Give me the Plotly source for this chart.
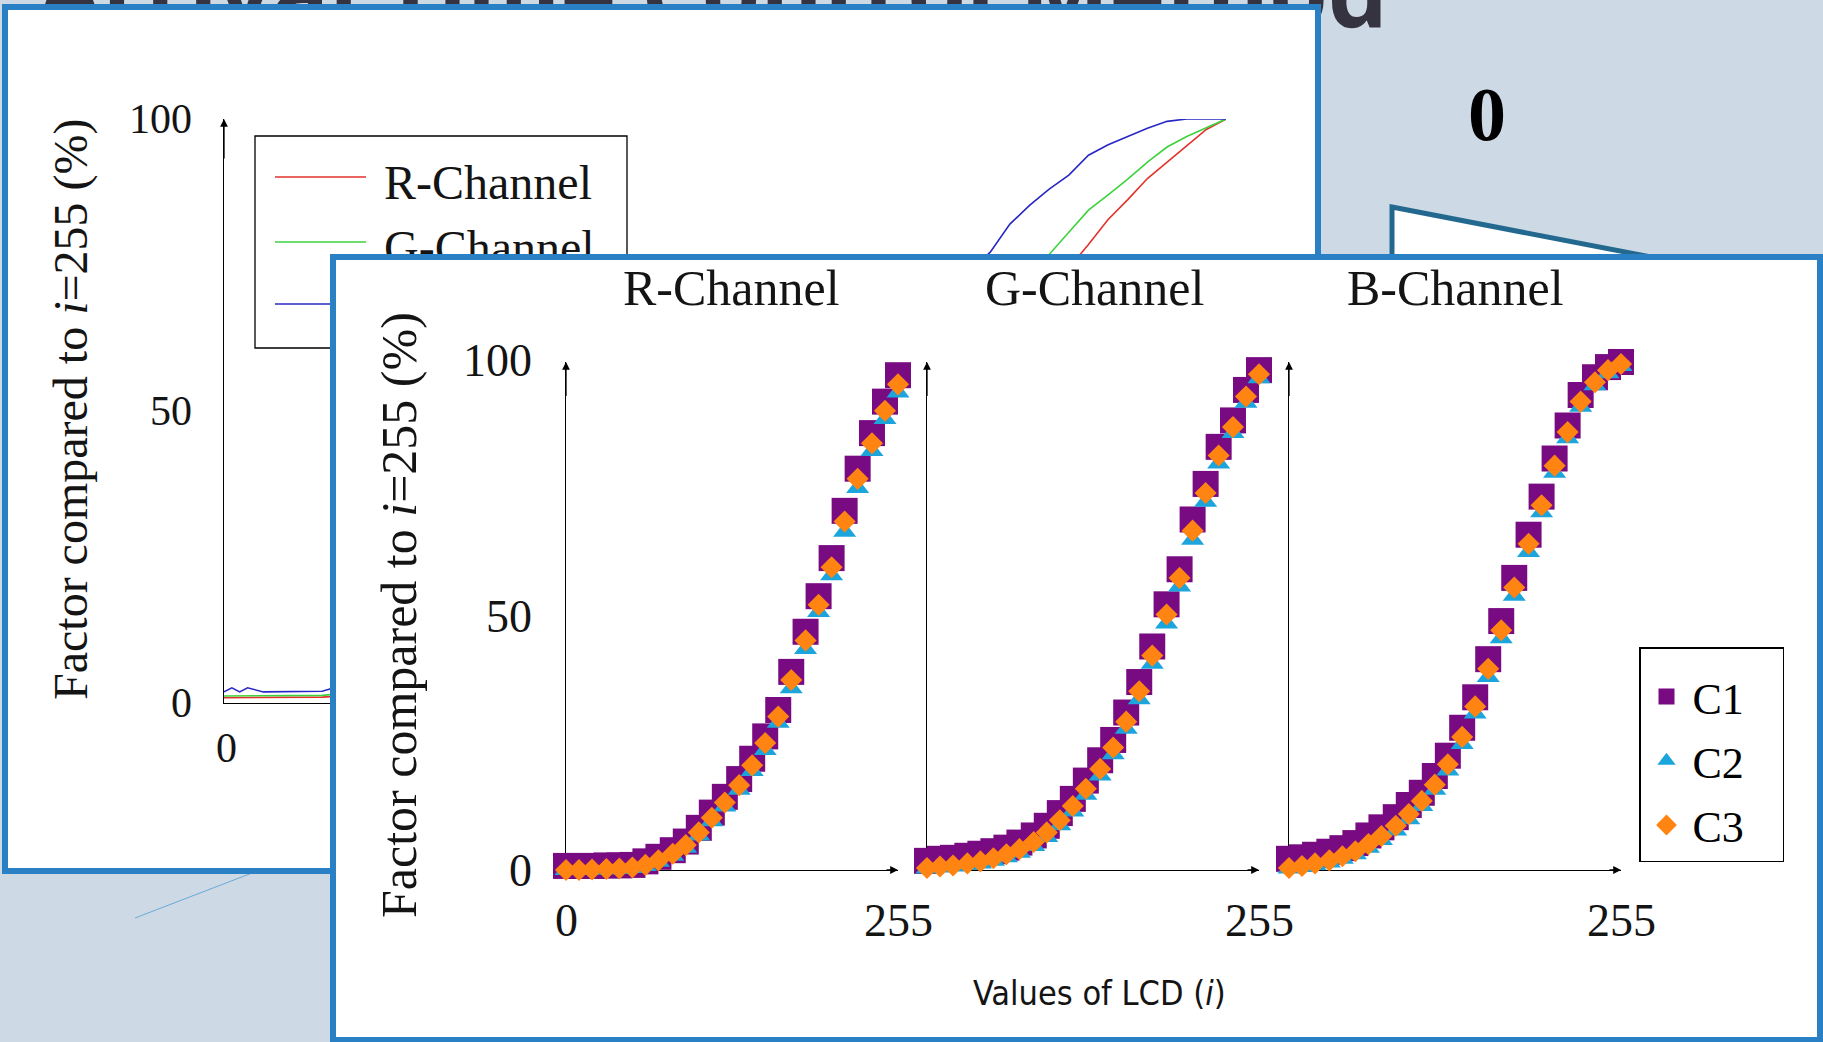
import plotly.graph_objects as go

W, H = 1823, 1042


def PX(px):
    return px / W


def PY(py):
    return (H - py) / H


# ---------------- data ----------------
LCD = [0, 10, 20, 31, 41, 51, 61, 71, 82, 92, 102, 112, 122, 133, 143, 153, 163, 173, 184, 194, 204, 214, 224, 235, 245, 255]

R_C1 = [0.8, 0.8, 0.8, 0.9, 0.9, 1.0, 1.7, 2.6, 3.9, 5.6, 8.3, 11.3, 14.4, 17.9, 21.9, 26.3, 31.5, 39.0, 46.9, 53.9, 61.4, 70.7, 79.0, 86.0, 92.2, 97.4]
R_C2 = [0.0, 0.0, 0.1, 0.1, 0.2, 0.4, 0.8, 1.6, 2.8, 4.4, 6.8, 9.6, 12.5, 15.8, 19.5, 23.6, 29.0, 35.8, 43.5, 50.8, 58.0, 66.6, 75.2, 82.5, 88.8, 94.0]
R_C3 = [0.0, 0.0, 0.1, 0.2, 0.3, 0.5, 1.0, 1.9, 3.2, 4.9, 7.4, 10.3, 13.3, 16.7, 20.6, 25.0, 30.2, 37.4, 45.2, 52.2, 59.6, 68.6, 77.0, 84.0, 90.4, 95.6]

G_C1 = [1.8, 2.2, 2.4, 2.8, 3.2, 3.7, 4.4, 5.4, 6.8, 8.7, 11.2, 14.0, 17.6, 21.6, 25.6, 31.0, 37.0, 44.0, 52.3, 59.2, 69.0, 76.0, 83.3, 88.5, 94.5, 98.4]
G_C2 = [0.3, 0.5, 0.7, 1.0, 1.3, 1.8, 2.5, 3.4, 4.7, 6.5, 8.8, 11.5, 14.8, 18.6, 22.8, 27.8, 33.6, 40.6, 48.5, 55.8, 65.0, 72.5, 80.0, 86.0, 92.0, 96.8]
G_C3 = [0.4, 0.7, 0.9, 1.3, 1.7, 2.3, 3.1, 4.1, 5.5, 7.4, 9.8, 12.6, 16.0, 19.9, 24.1, 29.2, 35.2, 42.2, 50.3, 57.5, 66.8, 74.2, 81.6, 87.2, 93.2, 97.6]

B_C1 = [2.2, 2.5, 3.0, 3.6, 4.3, 5.3, 6.8, 8.4, 10.4, 12.8, 15.2, 18.5, 22.5, 28.0, 34.0, 41.5, 49.0, 57.5, 66.0, 73.5, 81.0, 87.5, 93.5, 97.0, 99.0, 100.0]
B_C2 = [0.3, 0.6, 1.0, 1.5, 2.2, 3.1, 4.4, 5.9, 7.8, 10.0, 12.6, 15.8, 19.6, 24.8, 30.8, 38.0, 45.6, 54.0, 62.6, 70.4, 78.2, 85.0, 91.2, 95.4, 97.8, 99.2]
B_C3 = [0.4, 0.8, 1.3, 1.9, 2.7, 3.7, 5.1, 6.7, 8.7, 11.0, 13.6, 16.8, 20.8, 26.2, 32.2, 39.6, 47.2, 55.6, 64.2, 71.8, 79.6, 86.2, 92.2, 96.0, 98.4, 99.6]

BACK_LCD = [0, 2, 4, 6, 10, 15, 20, 25, 30, 60, 90, 120, 150, 180, 190, 195, 200, 205, 210, 215, 220, 225, 230, 235, 240, 245, 250, 255]
BACK_R = [0.9, 0.9, 0.9, 0.9, 0.9, 0.9, 0.9, 1.0, 1.2, 3.0, 9.0, 19.0, 33.0, 52.0, 58.0, 61.0, 64.0, 67.0, 70.5, 74.5, 78.5, 82.8, 86.2, 89.8, 92.6, 95.4, 98.2, 100.0]
BACK_G = [1.2, 1.2, 1.2, 1.2, 1.2, 1.2, 1.2, 1.3, 1.6, 5.0, 13.0, 26.0, 42.0, 60.0, 66.0, 69.0, 72.0, 74.5, 76.8, 80.6, 84.4, 87.0, 89.7, 92.6, 95.2, 97.0, 98.5, 100.0]
BACK_B = [1.9, 2.6, 1.9, 2.6, 1.9, 1.9, 1.9, 2.0, 3.0, 9.0, 20.0, 35.0, 52.0, 68.0, 74.0, 77.2, 82.0, 85.2, 88.0, 90.4, 93.8, 95.6, 97.0, 98.4, 99.6, 100.0, 100.0, 100.0]

CHANNELS = ["R-Channel", "G-Channel", "B-Channel"]
SERIES = ["C1", "C2", "C3"]
X_TICKS_FRONT = ["0", "255"]
Y_TICKS = ["0", "50", "100"]
TITLE = "Arrival Time Control Method"

# ---------------- styles ----------------
SERIF = "Liberation Serif, Times New Roman, serif"
BG = "#CDD9E5"
BORDER = "#2A80C5"
BACK_COLORS = ["#E2322B", "#3DD23D", "#2727C4"]
SER_STYLE = [("square", 26, "#780A82"), ("triangle-up", 20, "#1CA4DC"), ("diamond", 17, "#FF8412")]
TXT = "#141414"

fig = go.Figure()

# back chart lines (subplot x2/y2)
for name, vals, col in zip(CHANNELS, [BACK_R, BACK_G, BACK_B], BACK_COLORS):
    fig.add_trace(go.Scatter(x=BACK_LCD, y=vals, mode="lines", name=name,
                             line=dict(color=col, width=1.6), xaxis="x2", yaxis="y2",
                             showlegend=False, cliponaxis=False, hoverinfo="skip"))

# front charts (x4..x6)
panels = [("x4", "y4", [R_C1, R_C2, R_C3]), ("x5", "y5", [G_C1, G_C2, G_C3]), ("x6", "y6", [B_C1, B_C2, B_C3])]
for pi, (xa, ya, data) in enumerate(panels):
    for name, vals, (sym, size, col) in zip(SERIES, data, SER_STYLE):
        fig.add_trace(go.Scatter(x=LCD, y=vals, mode="markers", name=name + "\u00a0\u00a0\u00a0",
                                 legendgroup=name, showlegend=(pi == 0),
                                 marker=dict(symbol=sym, size=size, color=col, line=dict(width=0)),
                                 xaxis=xa, yaxis=ya, cliponaxis=False, hoverinfo="skip"))

# ---------------- axes ----------------
pix_x = dict(visible=False, range=[0, W], domain=[0, 1], fixedrange=True)
pix_y = dict(visible=False, range=[H, 0], domain=[0, 1], fixedrange=True)
line_ax = dict(showline=True, linecolor="black", linewidth=1.3, showgrid=False, zeroline=False,
               showticklabels=False, ticks="", layer="below traces", fixedrange=True)

F_PXU = 1.302  # px per LCD unit in front panels
front_x0 = [566, 927, 1289]
front_y = [PY(870), PY(362)]

layout_axes = dict(
    xaxis=dict(pix_x, anchor="y"), yaxis=dict(pix_y, anchor="x"),
    xaxis2=dict(line_ax, domain=[PX(224), PX(1226)], range=[0, 255], anchor="y2"),
    yaxis2=dict(line_ax, domain=[PY(703), PY(119)], range=[0, 100], anchor="x2"),
    xaxis3=dict(pix_x, anchor="y3"), yaxis3=dict(pix_y, anchor="x3"),
)
for i, x0 in enumerate(front_x0):
    n = i + 4
    layout_axes[f"xaxis{n}"] = dict(line_ax, domain=[PX(x0), PX(x0 + 255 * F_PXU)], range=[0, 255], anchor=f"y{n}")
    layout_axes[f"yaxis{n}"] = dict(line_ax, domain=front_y, range=[0, 100], anchor=f"x{n}")

# ---------------- shapes ----------------
shapes = []
# title (behind back panel)
shapes.append(dict(type="rect", xref="x", yref="y", layer="below", x0=34, x1=1500, y0=47, y1=-53,
                   line=dict(width=0), fillcolor="rgba(0,0,0,0)",
                   label=dict(text="<b>" + TITLE + "</b>", textposition="middle left", padding=0,
                              font=dict(family="Open Sans, sans-serif", size=95, color="#35333F"))))
# callout pointer
shapes.append(dict(type="path", xref="x", yref="y", layer="below",
                   path="M 1392,207 L 1760,278 L 1760,500 L 1392,500 Z",
                   line=dict(color="#23698F", width=5), fillcolor="white"))
# thin line lower left
shapes.append(dict(type="line", xref="x", yref="y", layer="below", x0=135, y0=918, x1=252, y1=873,
                   line=dict(color="#6AAAD6", width=1)))
# back panel
shapes.append(dict(type="rect", xref="x", yref="y", layer="below", x0=5, x1=1318, y0=7, y1=871,
                   line=dict(color=BORDER, width=6), fillcolor="white"))
# back legend
shapes.append(dict(type="rect", xref="x", yref="y", layer="below", x0=255, x1=627, y0=136, y1=348,
                   line=dict(color="black", width=1.3), fillcolor="white"))
for name, col, yy in zip(CHANNELS, BACK_COLORS, [177, 242, 304]):
    shapes.append(dict(type="line", xref="x", yref="y", layer="below", x0=275, x1=366, y0=yy, y1=yy,
                       line=dict(color=col, width=1.5)))
    shapes.append(dict(type="rect", xref="x", yref="y", layer="below", x0=381, x1=640, y0=yy - 20, y1=yy + 20,
                       line=dict(width=0), fillcolor="rgba(0,0,0,0)",
                       label=dict(text=name, textposition="middle left", padding=0,
                                  font=dict(family=SERIF, size=48, color=TXT))))
# front panel (above back chart)
shapes.append(dict(type="rect", xref="x3", yref="y3", layer="below", x0=333, x1=1820, y0=257, y1=1040,
                   line=dict(color=BORDER, width=6), fillcolor="white"))

# ---------------- annotations ----------------
ann = []


def text(t, x, y, size, xanchor="center", family=SERIF, angle=0, color=TXT):
    ann.append(dict(text=t, x=x, y=y, xref="paper", yref="paper", xanchor=xanchor, yanchor="middle",
                    showarrow=False, textangle=angle, font=dict(family=family, size=size, color=color)))


# back chart texts
text("Factor compared to <i>i</i>=255 (%)", PX(71), PY(409), 48, angle=-90)
for t, py in zip(Y_TICKS, [703, 411, 119]):
    text(t, PX(194), PY(py), 42, xanchor="right")
text("0", PX(226), PY(748), 42)
ann.append(dict(x=0, y=100, ax=0, ay=93, xref="x2", yref="y2", axref="x2", ayref="y2", text="",
                showarrow=True, arrowhead=2, arrowsize=1.2, arrowwidth=1.3, arrowcolor="black"))

# front texts
for t, cx in zip(CHANNELS, [731, 1094, 1455]):
    text(t, PX(cx), PY(288), 50)
text("Factor compared to <i>i</i>=255 (%)", PX(399), PY(615), 50, angle=-90)
for t, py in zip(Y_TICKS, [870, 616, 361]):
    text(t, PX(534), PY(py), 46, xanchor="right")
text(X_TICKS_FRONT[0], PX(566), PY(920), 46)
for x0 in front_x0:
    text(X_TICKS_FRONT[1], PX(x0 + 255 * F_PXU), PY(920), 46)
text("Values of LCD (<i>i</i>)", PX(1099), PY(993), 34,
     family="Liberation Sans Narrow, DejaVu Sans Condensed, Arial Narrow, sans-serif")
for n in (4, 5, 6):
    ann.append(dict(x=0, y=100, ax=0, ay=93, xref=f"x{n}", yref=f"y{n}", axref=f"x{n}", ayref=f"y{n}",
                    text="", showarrow=True, arrowhead=2, arrowsize=1.2, arrowwidth=1.3, arrowcolor="black"))
    ann.append(dict(x=255, y=0, ax=245, ay=0, xref=f"x{n}", yref=f"y{n}", axref=f"x{n}", ayref=f"y{n}",
                    text="", showarrow=True, arrowhead=2, arrowsize=1.2, arrowwidth=1.3, arrowcolor="black"))

# big zero
text("<b>0</b>", PX(1487), PY(114), 76, color="black")

fig.update_layout(
    width=W, height=H, margin=dict(l=0, r=0, t=0, b=0),
    paper_bgcolor=BG, plot_bgcolor="rgba(0,0,0,0)",
    shapes=shapes, annotations=ann, hovermode=False,
    showlegend=True,
    legend=dict(x=PX(1639), y=PY(647), xanchor="left", yanchor="top", bgcolor="white",
                bordercolor="black", borderwidth=1.5, itemwidth=42, tracegroupgap=4,
                title=dict(text="\u00a0", font=dict(size=10)),
                font=dict(family=SERIF, size=44, color="black")),
    **layout_axes,
)

fig.write_html("out.html", config={"displayModeBar": False},
               post_script="document.body.style.margin='0';document.body.style.overflow='hidden';")
